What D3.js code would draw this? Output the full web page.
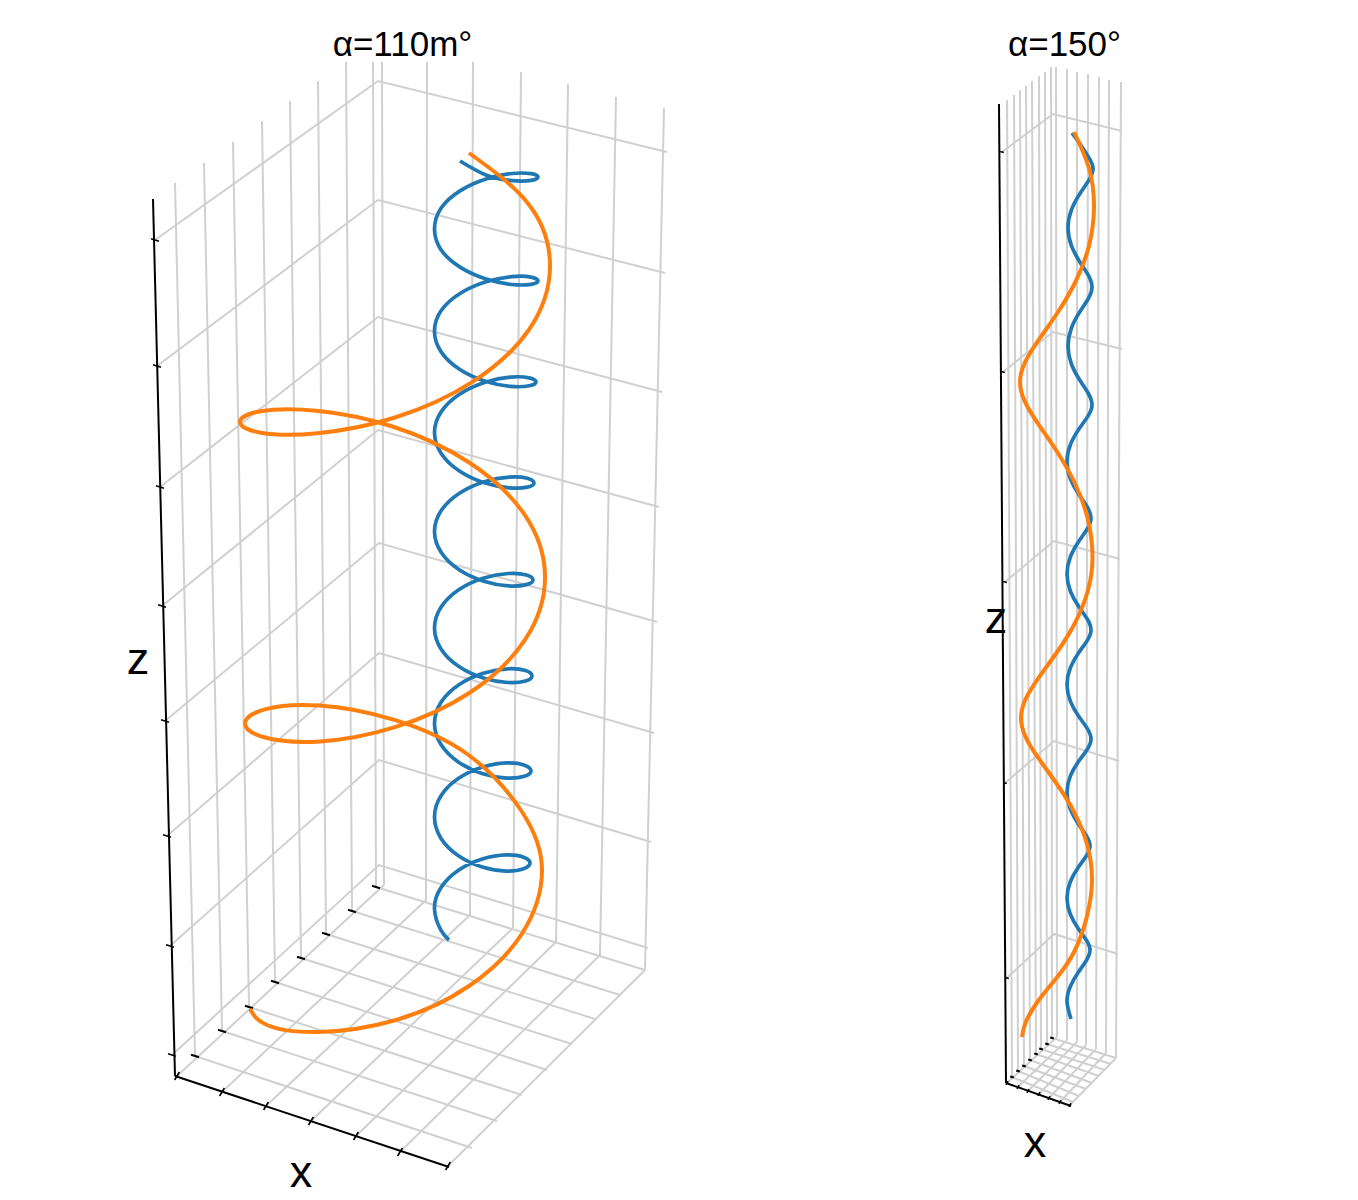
<!DOCTYPE html>
<html><head><meta charset="utf-8">
<script src="https://cdnjs.cloudflare.com/ajax/libs/d3/7.8.5/d3.min.js"></script>
<style>html,body{margin:0;padding:0;background:#fff}svg{display:block}text{font-family:"Liberation Sans",Arial,sans-serif;fill:#000}</style>
</head><body>
<script>
// Values, in each panel's projected units [u, v]
const titles = ["α=110m°", "α=150°"];
const axisNames = ["x", "z"];

const leftBlue = [[285,915],[311.5,900.8],[337,895.4],[356,895.6],[363,899],
[356,902.3],[337,902.5],[311,897],[285,885.1],[266,867.7],[259.5,847],[266,826.3],[285,808.9],[311,797],[337,791.5],[356,791.7],[363,795],
[356,798.9],[337,799.4],[311,794.2],[285,782.5],[266,765.2],[259.5,744.5],[266.3,723.9],[284.9,706.5],[310.3,694.7],[335.6,689.6],[354.2,690.2],[361,694],
[354.2,698.1],[335.6,698.9],[310.3,693.7],[284.9,682],[266.3,664.4],[259.5,643.5],[266.2,622.6],[284.4,605],[309.3,593.2],[334.1,588.2],[352.3,588.9],[359,593],
[352.3,597.7],[334.1,598.9],[309.3,594.3],[284.4,582.8],[266.2,565.4],[259.5,544.5],[266.1,523.7],[284.1,506.2],[308.8,494.8],[333.4,490.1],[351.4,491.4],[358,496],
[351.4,501],[333.4,502.5],[308.8,498],[284.1,486.5],[266.1,469],[259.5,448],[266,427],[283.9,409.5],[308.3,398],[332.6,393.5],[350.5,395],[357,400],
[350.5,405.4],[332.6,407.2],[308.3,402.8],[283.9,391.3],[266,373.7],[259.5,352.5],[266,331.4],[283.6,313.8],[307.8,302.3],[331.9,297.9],[349.5,299.7],[356,305],
[349.5,310.8],[331.9,313.1],[307.8,309],[283.6,297.7],[266,280.2],[259.5,259],[265.9,237.8],[283.4,220.3],[307.3,209],[331.1,204.9],[348.6,207.2],[355,213],
[348.6,218.8],[331.1,221.1],[307.3,217],[283.4,205.7],[265.9,188.2],[259.5,167],[265.9,145.8],[274,136]];
const leftOrange = [[294,923],[354,871.3],[375,809],[354.2,746.7],[297.5,694.1],[220,658.5],[142.5,642.8],[85.8,643.3],[65,654],[85.4,664.7],[141.3,665.3],[217.5,649.5],[293.8,613.7],[349.6,561.3],[370,499],[349.9,436.1],[295,383.5],[220,348.8],[145,334.6],[90.1,338.5],[70,352.5],[89.9,366.6],[144.3,370.4],[218.5,356.3],[292.8,321.5],[347.1,264],[367,206],[347.4,143],[294,90],[221,56],[143,44],[92,51],[75,67]];
const rightBlue = [[66,950],[73.5,939.75],[82.3,926.4],[87,915],
[83.3,903.6],[74.5,890.25],[65.7,873.9],[62,855.5],[65.5,837.1],[74,820.75],[82.5,807.4],[86,796],
[82.5,784.75],[74,771.5],[65.5,755.25],[62,737],[65.5,718.75],[74,702.5],[82.5,689.25],[86,678],
[82.3,667.4],[73.5,654.75],[64.7,639.1],[61,621.5],[64.5,603.9],[73,588.25],[81.5,575.6],[85,565],
[81.5,554.5],[73,542],[64.5,526.5],[61,509],[64.5,491.5],[73,476],[81.5,463.5],[85,453],
[81.5,442.9],[73,430.75],[64.5,415.6],[61,398.5],[64.5,381.4],[73,366.25],[81.5,354.1],[85,344],
[81.5,334.1],[73,322.25],[64.5,307.4],[61,290.5],[64.4,273.6],[72.5,258.75],[80.6,246.9],[84,237],
[80.6,227.5],[72.5,216],[64.4,201.5],[61,185],[64.4,168.5],[72.5,154],[80.6,142.5],[84,133],
[80.6,123],[72.5,111],[65,98],[61,82],[65,64]];
const rightOrange = [[68,951],[83,914.7],[88,876],[83,837.3],[69.5,801.25],[51,769.5],[32.5,742.85],[19,720.7],[14,701],[18.9,681.3],[32.1,659.15],[50.25,632.5],[68.4,600.75],[81.6,564.7],[86.5,526],[81.7,491.7],[68.6,459.3],[50.75,430.5],[32.9,405.7],[19.8,384.3],[15,365],[19.8,345.7],[32.8,324.3],[50.5,299.5],[68.3,270.7],[81.2,238.3],[86,204],[81,167],[68,131],[50.5,105],[32.8,83],[19.8,61],[16,46]];

// Box geometry
const leftZTicks = [[-20,836],[-18,710],[-15,589],[-13,470],[-10,355],[-8,240],[-5,130],[-3,21]];
const leftZBack  = [[203,995],[203,876],[203,759],[203,646],[204,533],[204,423],[204,316],[204,211]];
const leftZRight = [[492,924],[490,803],[487,684],[484,569],[482,454],[479,343],[476,234],[473,128]];
const leftYTicks = [[20,20],[47,45],[74,69],[100,94],[126,118],[151,142],[177,165],[201,189]];
const leftYTops  = [[0,893],[29,913],[58,934],[87,955],[115,975],[143,995],[171,1014],[198,1014]];
const leftYEnds  = [[297,-72],[322,-45],[347,-19],[372,6],[397,32],[420,57],[445,81],[470,106]];
const leftXTicks = [[2,0],[47,-16],[91,-30],[136,-45],[181,-60],[225,-76],[273,-90]];
const leftXFeet  = [[209,191],[251,176],[295,161],[338,148],[381,134],[425,121],[470,106]];
const leftXTops  = [[207,1014],[252,1014],[298,1014],[346,1004],[393,992],[441,979],[489,968]];
const leftZAxis  = [[-22,877],[0,0]];
const leftXAxis  = [[0,0],[274,-91]];

const rightZTicks = [[-4,931],[-3,711],[-1,501],[-1,300],[1,105]];
const rightZBack  = [[47,969],[47,751],[48,542],[48,342],[48,149]];
const rightZRight = [[116,952],[116,734],[114,524],[113,322],[112,129]];
const rightYTicks = [[6,6],[12,12],[18,17],[24,23],[30,29],[35,34],[41,39],[46,45]];
const rightYTops  = [[1,983],[8,988],[14,993],[20,997],[26,1002],[33,1007],[39,1011],[45,1016]];
const rightYEnds  = [[67,-19],[73,-13],[80,-6],[86,0],[93,7],[99,13],[105,19],[110,25]];
const rightXTicks = [[1,0],[12,-4],[22,-8],[33,-11],[43,-15],[54,-19],[64,-22]];
const rightXFeet  = [[51,46],[61,43],[71,41],[80,38],[90,34],[100,30],[110,25]];
const rightXTops  = [[50,1016],[61,1014],[71,1011],[82,1009],[93,1006],[103,1003],[115,1001]];
const rightZAxis  = [[-7,979],[0,0]];
const rightXAxis  = [[0,0],[65,-23]];

const W = 1358, H = 1200;
const GRID = "#d0d0d0", BLUE = "#1f77b4", ORANGE = "#ff7f0e";
const svg = d3.select("body").append("svg").attr("width", W).attr("height", H).attr("viewBox", [0,0,W,H]);

function panel(cfg){
  const x = d3.scaleLinear().domain([0,500]).range([cfg.ox, cfg.ox+500]);
  const y = d3.scaleLinear().domain([0,1000]).range([cfg.oy, cfg.oy-1000]);
  const g = svg.append("g");
  const line = d3.line().x(d=>x(d[0])).y(d=>y(d[1]));
  const seg = (pts, color, w) => g.append("path").attr("d", line(pts)).attr("fill","none")
      .attr("stroke",color).attr("stroke-width",w).attr("stroke-linecap","butt");
  const gw = 2;
  cfg.zTicks.forEach((p,i)=>seg([p,cfg.zBack[i],cfg.zRight[i]],GRID,gw));
  cfg.yTicks.forEach((p,i)=>seg([cfg.yTops[i],p],GRID,gw));
  cfg.xFeet.forEach((p,i)=>seg([cfg.xTops[i],p],GRID,gw));
  cfg.yTicks.forEach((p,i)=>seg([p,cfg.yEnds[i]],GRID,gw));
  cfg.xTicks.forEach((p,i)=>seg([p,cfg.xFeet[i]],GRID,gw));
  seg(cfg.zAxis,"#000",2); seg(cfg.xAxis,"#000",2);
  const t = cfg.tick;
  cfg.zTicks.forEach(p=>seg([[p[0]-t,p[1]+t*0.3],[p[0]+t,p[1]-t*0.3]],"#000",1.6));
  cfg.yTicks.forEach(p=>seg([[p[0]-t,p[1]+t*0.3],[p[0]+t,p[1]-t*0.3]],"#000",2));
  cfg.xTicks.forEach(p=>seg([[p[0]-t*0.6,p[1]-t],[p[0]+t*0.6,p[1]+t]],"#000",1.6));
  const curve = d3.line().x(d=>x(d[0])).y(d=>y(d[1])).curve(d3.curveNatural);
  g.append("path").attr("d",curve(cfg.blue)).attr("fill","none").attr("stroke",BLUE).attr("stroke-width",3.7);
  g.append("path").attr("d",curve(cfg.orange)).attr("fill","none").attr("stroke",ORANGE).attr("stroke-width",4);
  g.append("text").attr("x",cfg.title[0]).attr("y",cfg.title[1]).attr("text-anchor","middle")
    .attr("font-size",cfg.titleSize).text(cfg.titleText);
  g.append("text").attr("x",cfg.xLabel[0]).attr("y",cfg.xLabel[1]).attr("text-anchor","middle")
    .attr("font-size",cfg.labelSize).text(axisNames[0]);
  g.append("text").attr("x",cfg.zLabel[0]).attr("y",cfg.zLabel[1]).attr("text-anchor","middle")
    .attr("font-size",cfg.labelSize).text(axisNames[1]);
}

panel({ox:175,oy:1076,tick:4,blue:leftBlue,orange:leftOrange,
  zTicks:leftZTicks,zBack:leftZBack,zRight:leftZRight,yTicks:leftYTicks,yTops:leftYTops,yEnds:leftYEnds,
  xTicks:leftXTicks,xFeet:leftXFeet,xTops:leftXTops,zAxis:leftZAxis,xAxis:leftXAxis,
  title:[402.5,56],titleSize:35,titleText:titles[0],xLabel:[301,1187],zLabel:[138,674],labelSize:45});
panel({ox:1006,oy:1083,tick:1.8,blue:rightBlue,orange:rightOrange,
  zTicks:rightZTicks,zBack:rightZBack,zRight:rightZRight,yTicks:rightYTicks,yTops:rightYTops,yEnds:rightYEnds,
  xTicks:rightXTicks,xFeet:rightXFeet,xTops:rightXTops,zAxis:rightZAxis,xAxis:rightXAxis,
  title:[1064.5,56],titleSize:35,titleText:titles[1],xLabel:[1035,1157],zLabel:[996,633],labelSize:45});
</script>
</body></html>
